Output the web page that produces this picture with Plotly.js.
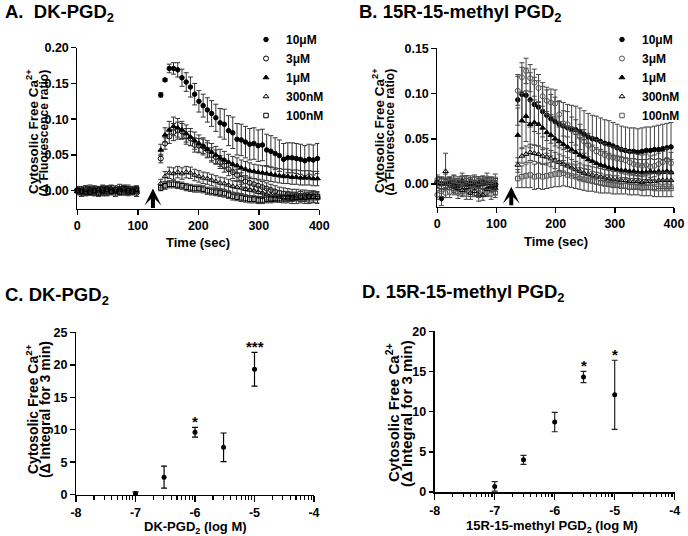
<!DOCTYPE html>
<html>
<head>
<meta charset="utf-8">
<script src="https://cdn.plot.ly/plotly-3.0.1.min.js"></script>
<style>html,body{margin:0;padding:0;background:#fff;}#chart{width:688px;height:536px;}</style>
</head>
<body>
<div id="chart"></div>
<script>
// ---------- DATA ----------
const seriesNames = ['10\u03bcM', '3\u03bcM', '1\u03bcM', '300nM', '100nM'];

const timeA = [0,7,14,21,28,35,42,49,56,63,70,77,84,91,98,
  138,145,152,159,166,173,180,187,194,201,208,215,222,229,236,243,250,257,264,271,278,285,292,299,306,313,320,327,334,341,348,355,362,369,376,383,390,397];
const timeB = [0,7,14,21,28,35,42,49,56,63,70,77,84,91,98,
  136,143,150,157,164,171,178,185,192,199,206,213,220,227,234,241,248,255,262,269,276,283,290,297,304,311,318,325,332,339,346,353,360,367,374,381,388,395];

// Panel A: DK-PGD2
const a10 = [0.000,-0.002,0.001,-0.001,0.002,0.000,-0.002,0.003,0.001,-0.001,0.002,0.000,0.003,-0.002,0.001,
  0.134,0.155,0.171,0.171,0.169,0.158,0.152,0.145,0.135,0.125,0.119,0.113,0.108,0.102,0.095,0.093,0.084,0.081,0.072,0.071,0.068,0.065,0.066,0.063,0.064,0.057,0.055,0.052,0.049,0.044,0.046,0.046,0.045,0.044,0.042,0.044,0.043,0.045];
const a3 = [0.001,-0.003,-0.001,0.002,-0.002,0.001,0.003,-0.001,0.000,0.002,-0.002,0.001,-0.001,0.002,-0.003,
  0.045,0.066,0.076,0.082,0.084,0.083,0.076,0.073,0.064,0.063,0.062,0.057,0.050,0.047,0.040,0.035,0.030,0.026,0.022,0.017,0.013,0.011,0.009,0.007,0.005,0.003,0.001,-0.001,-0.003,-0.004,-0.005,-0.006,-0.006,-0.007,-0.007,-0.008,-0.008,-0.009];
const a1 = [-0.001,0.002,-0.002,0.000,0.003,-0.001,0.001,-0.003,0.002,0.000,0.003,-0.001,0.002,0.000,-0.002,
  0.057,0.078,0.085,0.090,0.088,0.085,0.080,0.075,0.070,0.066,0.062,0.058,0.054,0.050,0.046,0.043,0.040,0.037,0.035,0.032,0.030,0.028,0.027,0.026,0.025,0.024,0.023,0.022,0.021,0.020,0.020,0.019,0.019,0.018,0.018,0.018,0.017,0.017];
const a300 = [0.002,0.000,-0.003,0.001,-0.001,0.002,-0.002,0.000,0.003,-0.002,0.001,0.002,-0.003,0.001,0.000,
  0.010,0.020,0.025,0.024,0.026,0.024,0.026,0.025,0.022,0.020,0.018,0.017,0.015,0.013,0.011,0.010,0.008,0.006,0.005,0.004,0.002,0.001,0.000,-0.002,-0.003,-0.005,-0.006,-0.007,-0.008,-0.009,-0.009,-0.010,-0.010,-0.009,-0.010,-0.010,-0.009,-0.010];
const a100 = [0.000,-0.001,0.002,-0.002,0.000,-0.003,0.001,0.002,-0.001,0.001,-0.002,0.003,0.000,-0.001,0.002,
  0.004,0.007,0.009,0.009,0.008,0.007,0.005,0.004,0.003,0.003,0.002,0.000,-0.001,-0.002,-0.003,-0.004,-0.006,-0.008,-0.009,-0.010,-0.011,-0.012,-0.012,-0.013,-0.013,-0.012,-0.012,-0.011,-0.011,-0.010,-0.010,-0.010,-0.009,-0.009,-0.009,-0.008,-0.008,-0.008];

const a10Err = [0.005,0.004,0.006,0.005,0.004,0.006,0.005,0.004,0.006,0.005,0.004,0.006,0.005,0.004,0.005,
  0.003,0.002,0.006,0.008,0.010,0.012,0.013,0.014,0.015,0.015,0.016,0.017,0.018,0.019,0.020,0.021,0.021,0.022,0.022,0.022,0.022,0.022,0.022,0.022,0.022,0.022,0.022,0.022,0.022,0.022,0.021,0.021,0.021,0.021,0.021,0.021,0.021,0.021];
const a3Err = [0.004,0.005,0.004,0.006,0.005,0.004,0.005,0.006,0.004,0.005,0.004,0.006,0.005,0.004,0.005,
  0.006,0.008,0.010,0.012,0.012,0.011,0.011,0.010,0.010,0.010,0.010,0.010,0.010,0.010,0.009,0.009,0.009,0.009,0.008,0.008,0.008,0.008,0.008,0.008,0.008,0.008,0.008,0.008,0.008,0.008,0.008,0.008,0.008,0.008,0.008,0.008,0.008,0.008];
const a1Err = [0.005,0.004,0.005,0.006,0.004,0.005,0.006,0.004,0.005,0.004,0.006,0.005,0.004,0.005,0.006,
  0.008,0.010,0.012,0.013,0.013,0.012,0.012,0.012,0.012,0.012,0.012,0.012,0.012,0.012,0.012,0.012,0.011,0.011,0.011,0.011,0.011,0.011,0.010,0.010,0.010,0.010,0.010,0.010,0.010,0.010,0.010,0.010,0.010,0.010,0.010,0.010,0.010,0.010];
const a300Err = [0.004,0.005,0.004,0.005,0.006,0.004,0.005,0.004,0.005,0.006,0.004,0.005,0.004,0.005,0.004,
  0.006,0.007,0.008,0.008,0.008,0.008,0.008,0.008,0.008,0.008,0.008,0.008,0.008,0.008,0.008,0.008,0.008,0.008,0.008,0.008,0.008,0.008,0.008,0.008,0.008,0.008,0.008,0.008,0.008,0.008,0.008,0.008,0.008,0.008,0.008,0.008,0.008,0.008];
const a100Err = [0.004,0.004,0.005,0.004,0.004,0.005,0.004,0.004,0.005,0.004,0.004,0.005,0.004,0.004,0.005,
  0.004,0.005,0.005,0.005,0.005,0.005,0.005,0.005,0.005,0.005,0.005,0.005,0.005,0.005,0.005,0.005,0.005,0.005,0.005,0.005,0.005,0.005,0.005,0.005,0.005,0.005,0.005,0.005,0.005,0.005,0.005,0.005,0.005,0.005,0.005,0.005,0.005,0.005];

// Panel B: 15R-15-methyl PGD2
const b10 = [0.002,-0.016,0.001,0.000,0.002,-0.001,0.003,0.001,0.000,0.002,-0.001,0.003,0.001,0.000,-0.002,
  0.093,0.099,0.098,0.093,0.088,0.085,0.080,0.076,0.072,0.069,0.066,0.064,0.062,0.061,0.060,0.058,0.055,0.052,0.050,0.049,0.047,0.045,0.044,0.042,0.040,0.038,0.037,0.036,0.036,0.035,0.036,0.037,0.037,0.038,0.038,0.039,0.040,0.041];
const b3 = [-0.012,-0.008,-0.010,-0.009,-0.007,-0.010,-0.008,-0.011,-0.009,-0.007,-0.010,-0.008,-0.009,-0.011,-0.010,
  0.103,0.118,0.125,0.117,0.112,0.106,0.097,0.092,0.090,0.089,0.077,0.067,0.066,0.060,0.057,0.052,0.047,0.043,0.039,0.036,0.034,0.032,0.030,0.029,0.028,0.027,0.026,0.024,0.022,0.021,0.020,0.021,0.019,0.020,0.022,0.024,0.027,0.023];
const b1 = [0.003,0.001,0.000,0.002,-0.001,0.001,0.003,0.000,0.002,-0.001,0.002,0.000,0.001,-0.002,0.001,
  0.054,0.070,0.075,0.066,0.068,0.066,0.062,0.057,0.054,0.050,0.047,0.044,0.041,0.038,0.035,0.032,0.030,0.027,0.025,0.023,0.021,0.020,0.018,0.017,0.016,0.015,0.015,0.014,0.014,0.013,0.013,0.013,0.014,0.013,0.014,0.013,0.014,0.013];
const b300 = [0.001,0.000,0.014,0.002,-0.003,-0.005,-0.007,-0.004,-0.010,-0.008,-0.012,-0.012,-0.006,-0.003,-0.005,
  0.021,0.031,0.033,0.035,0.034,0.033,0.031,0.030,0.028,0.026,0.024,0.022,0.020,0.018,0.016,0.014,0.012,0.011,0.010,0.009,0.008,0.007,0.006,0.005,0.005,0.004,0.004,0.003,0.003,0.003,0.002,0.003,0.003,0.003,0.004,0.004,0.004,0.004];
const b100 = [0.004,0.003,0.005,0.002,0.004,0.003,0.006,0.004,0.003,0.005,0.002,0.004,0.006,0.003,0.005,
  0.006,0.008,0.009,0.010,0.008,0.009,0.008,0.009,0.010,0.011,0.011,0.012,0.010,0.009,0.008,0.006,0.005,0.004,0.003,0.002,0.001,0.000,0.000,-0.001,-0.001,-0.002,-0.002,-0.003,-0.003,-0.003,-0.004,-0.004,-0.004,-0.005,-0.005,-0.005,-0.005,-0.005];

const b10Err = [0.006,0.008,0.005,0.006,0.007,0.005,0.006,0.008,0.005,0.006,0.007,0.005,0.006,0.007,0.006,
  0.028,0.030,0.030,0.030,0.030,0.029,0.028,0.028,0.027,0.027,0.026,0.026,0.026,0.026,0.026,0.026,0.026,0.026,0.026,0.026,0.026,0.026,0.026,0.026,0.026,0.026,0.026,0.026,0.026,0.026,0.026,0.026,0.026,0.026,0.027,0.027,0.027,0.027];
const b3Err = [0.005,0.006,0.005,0.006,0.005,0.006,0.005,0.006,0.005,0.006,0.005,0.006,0.005,0.006,0.005,
  0.016,0.016,0.014,0.015,0.015,0.015,0.015,0.015,0.015,0.015,0.014,0.014,0.014,0.014,0.014,0.014,0.013,0.013,0.013,0.013,0.013,0.013,0.012,0.012,0.012,0.012,0.012,0.012,0.012,0.012,0.012,0.012,0.012,0.012,0.012,0.012,0.012,0.012];
const b1Err = [0.005,0.006,0.005,0.005,0.006,0.005,0.005,0.006,0.005,0.005,0.006,0.005,0.005,0.006,0.005,
  0.030,0.030,0.028,0.026,0.025,0.024,0.024,0.023,0.023,0.022,0.022,0.021,0.021,0.020,0.020,0.019,0.019,0.018,0.018,0.017,0.017,0.016,0.016,0.015,0.015,0.015,0.014,0.014,0.014,0.014,0.014,0.014,0.014,0.014,0.014,0.014,0.014,0.014];
const b300Err = [0.006,0.006,0.020,0.006,0.007,0.006,0.007,0.006,0.007,0.006,0.007,0.006,0.007,0.006,0.007,
  0.008,0.008,0.009,0.009,0.009,0.009,0.009,0.009,0.009,0.009,0.009,0.009,0.009,0.009,0.009,0.009,0.009,0.009,0.009,0.009,0.009,0.009,0.009,0.009,0.009,0.009,0.009,0.009,0.009,0.009,0.009,0.009,0.009,0.009,0.009,0.009,0.009,0.009];
const b100Err = [0.006,0.005,0.006,0.005,0.006,0.005,0.006,0.005,0.006,0.005,0.006,0.005,0.006,0.005,0.006,
  0.010,0.012,0.013,0.014,0.014,0.014,0.014,0.014,0.014,0.014,0.014,0.014,0.013,0.013,0.013,0.012,0.012,0.012,0.011,0.011,0.011,0.010,0.010,0.010,0.010,0.009,0.009,0.009,0.009,0.009,0.009,0.009,0.009,0.009,0.009,0.009,0.009,0.009];

// Panels C & D: concentration–response (log M)
const logConc = [-7, -6.52, -6, -5.52, -5];
const cVals = [0.15, 2.7, 9.6, 7.3, 19.3];
const cErr  = [0.3, 1.7, 0.75, 2.2, 2.6];
const cSig  = ['', '', '*', '', '***'];
const dVals = [0.7, 4.0, 8.7, 14.3, 12.1];
const dErr  = [0.6, 0.55, 1.2, 0.7, 4.3];
const dSig  = ['', '', '', '*', '*'];

const stimTime = 125;
const timeTicks = [0, 100, 200, 300, 400];
const timeTickText = ['0', '100', '200', '300', '400'];
const yTicksA = [0, 0.05, 0.1, 0.15, 0.2];
const yTickTextA = ['0.00', '0.05', '0.10', '0.15', '0.20'];
const yTicksB = [0, 0.05, 0.1, 0.15];
const yTickTextB = ['0.00', '0.05', '0.10', '0.15'];
const yTicksC = [0, 5, 10, 15, 20, 25];
const yTicksD = [0, 5, 10, 15, 20];
const logTickVals = [-8, -7, -6, -5, -4];
const logTickText = ['-8', '-7', '-6', '-5', '-4'];

// ---------- CHART ----------
const FONT = 'Liberation Sans, Arial, Helvetica, sans-serif';
const W = 688, H = 536;
const px = v => v / W;
const py = v => 1 - v / H;
const bold = arr => arr.map(t => '<b>' + t + '</b>');

const symA = ['circle', 'circle-open', 'triangle-up', 'triangle-up-open', 'square-open'];
const symB = ['circle', 'circle-open', 'triangle-up', 'triangle-up-open', 'square-open'];
const colA = ['#000', '#000', '#000', '#000', '#000'];
const colB = ['#000', '#555', '#000', '#000', '#555'];
const sizes = [4.5, 5, 5, 5, 4.5];

const seriesA = [a10, a3, a1, a300, a100];
const errA = [a10Err, a3Err, a1Err, a300Err, a100Err];
const seriesB = [b10, b3, b1, b300, b100];
const errB = [b10Err, b3Err, b1Err, b300Err, b100Err];

const traces = [];
seriesA.forEach((ys, i) => {
  traces.push({
    type: 'scatter', mode: 'markers', x: timeA, y: ys, name: '<b>' + seriesNames[i] + '</b>',
    xaxis: 'x', yaxis: 'y', legend: 'legend', cliponaxis: false,
    marker: {symbol: symA[i], size: sizes[i], color: colA[i], line: {color: colA[i], width: 1}},
    error_y: {type: 'data', array: errA[i], visible: true, thickness: 1, width: 2.5, color: '#333'}
  });
});
seriesB.forEach((ys, i) => {
  traces.push({
    type: 'scatter', mode: 'markers', x: timeB, y: ys, name: '<b>' + seriesNames[i] + '</b>',
    xaxis: 'x2', yaxis: 'y2', legend: 'legend2', cliponaxis: false,
    marker: {symbol: symB[i], size: sizes[i], color: colB[i], line: {color: colB[i], width: 1}},
    error_y: {type: 'data', array: errB[i], visible: true, thickness: 1, width: 2.5, color: '#444'}
  });
});
traces.push({
  type: 'scatter', mode: 'markers', x: logConc, y: cVals, xaxis: 'x3', yaxis: 'y3',
  showlegend: false, cliponaxis: false,
  marker: {symbol: 'circle', size: 5, color: '#000'},
  error_y: {type: 'data', array: cErr, visible: true, thickness: 1.2, width: 3, color: '#000'}
});
traces.push({
  type: 'scatter', mode: 'markers', x: logConc, y: dVals, xaxis: 'x4', yaxis: 'y4',
  showlegend: false, cliponaxis: false,
  marker: {symbol: 'circle', size: 5, color: '#000'},
  error_y: {type: 'data', array: dErr, visible: true, thickness: 1.2, width: 3, color: '#222'}
});

// minor log ticks (axis decoration)
const minorLog = [];
[-8, -7, -6, -5].forEach(d => { for (let k = 2; k <= 9; k++) minorLog.push(d + Math.log10(k)); });

const tickFont = {family: FONT, size: 12.5, color: '#000', weight: 'bold'};
function axisBase(extra) {
  return Object.assign({
    showline: true, linecolor: '#000', linewidth: 1.5, showgrid: false, zeroline: false,
    ticks: 'outside', ticklen: 4.5, tickwidth: 1.5, tickcolor: '#000', tickfont: tickFont,
    fixedrange: true, tickmode: 'array'
  }, extra);
}
const minorDef = {tickmode: 'array', tickvals: minorLog, ticks: 'outside', ticklen: 3.5, tickwidth: 1.2, tickcolor: '#000'};

const layout = {
  width: W, height: H, margin: {l: 0, r: 0, t: 0, b: 0},
  paper_bgcolor: '#fff', plot_bgcolor: '#fff',
  font: {family: FONT, color: '#000'},
  showlegend: true,
  xaxis: axisBase({domain: [px(77.3), px(319.3)], range: [0, 400], anchor: 'y',
    tickvals: timeTicks, ticktext: bold(timeTickText)}),
  yaxis: axisBase({domain: [py(208.6), py(47.7)], range: [-0.025, 0.2], anchor: 'x',
    tickvals: yTicksA, ticktext: bold(yTickTextA)}),
  xaxis2: axisBase({domain: [px(437.3), px(674)], range: [0, 400], anchor: 'y2',
    tickvals: timeTicks, ticktext: bold(timeTickText)}),
  yaxis2: axisBase({domain: [py(206.6), py(48.3)], range: [-0.025, 0.15], anchor: 'x2',
    tickvals: yTicksB, ticktext: bold(yTickTextB)}),
  xaxis3: axisBase({domain: [px(76), px(314)], range: [-8, -4], anchor: 'y3',
    tickvals: logTickVals, ticktext: bold(logTickText), ticklen: 6, minor: minorDef}),
  yaxis3: axisBase({domain: [py(494.7), py(332.3)], range: [0, 25], anchor: 'x3',
    tickvals: yTicksC, ticktext: bold(yTicksC.map(String))}),
  xaxis4: axisBase({domain: [px(434.7), px(674.7)], range: [-8, -4], anchor: 'y4',
    tickvals: logTickVals, ticktext: bold(logTickText), ticklen: 6, minor: minorDef}),
  yaxis4: axisBase({domain: [py(492), py(331.3)], range: [0, 20], anchor: 'x4',
    tickvals: yTicksD, ticktext: bold(yTicksD.map(String))}),
  legend: {x: px(246), y: py(25), xanchor: 'left', yanchor: 'top', bgcolor: 'rgba(0,0,0,0)',
    font: {family: FONT, size: 12, color: '#000'}, tracegroupgap: 0, itemwidth: 30},
  legend2: {x: px(602), y: py(25), xanchor: 'left', yanchor: 'top', bgcolor: 'rgba(0,0,0,0)',
    font: {family: FONT, size: 12, color: '#000'}, tracegroupgap: 0, itemwidth: 30},
  annotations: []
};

const ann = layout.annotations;
function textAt(x, y, text, size, opts) {
  ann.push(Object.assign({xref: 'paper', yref: 'paper', x: px(x), y: py(y), text: '<b>' + text + '</b>',
    showarrow: false, xanchor: 'center', yanchor: 'middle',
    font: {family: FONT, size: size, color: '#000'}}, opts || {}));
}
// panel titles
textAt(3, 13, 'A.  DK-PGD<sub>2</sub>', 18.5, {xanchor: 'left'});
textAt(357, 13, 'B. 15R-15-methyl PGD<sub>2</sub>', 18.5, {xanchor: 'left'});
textAt(3, 296, 'C. DK-PGD<sub>2</sub>', 18.5, {xanchor: 'left'});
textAt(360, 293, 'D. 15R-15-methyl PGD<sub>2</sub>', 18.5, {xanchor: 'left'});
// x titles
textAt(198, 242, 'Time (sec)', 13);
textAt(556, 241, 'Time (sec)', 13);
textAt(195, 527, 'DK-PGD<sub>2</sub> (log M)', 13);
textAt(552, 526, '15R-15-methyl PGD<sub>2</sub> (log M)', 13);
// y titles (two lines each)
const yt1 = 'Cytosolic Free Ca<sup>2+</sup>';
textAt(32, 132, yt1, 13.5, {textangle: -90});
textAt(43.5, 133, '(\u0394 Fluorescence ratio)', 12, {textangle: -90});
textAt(378, 131, yt1, 13.5, {textangle: -90});
textAt(389.5, 132, '(\u0394 Fluorescence ratio)', 12, {textangle: -90});
textAt(32, 409, yt1, 14, {textangle: -90});
textAt(45, 410, '(\u0394 Integral for 3 min)', 14, {textangle: -90});
textAt(392, 413, yt1, 15, {textangle: -90});
textAt(406, 414, '(\u0394 Integral for 3 min)', 15, {textangle: -90});

// stimulus arrows
ann.push({xref: 'x', yref: 'y', x: stimTime, y: 0.003, ax: 0, ay: 21, text: '', showarrow: true,
  arrowhead: 3, arrowsize: 0.7, arrowwidth: 4, arrowcolor: '#000', standoff: 0});
ann.push({xref: 'x2', yref: 'y2', x: stimTime, y: -0.003, ax: 0, ay: 20, text: '', showarrow: true,
  arrowhead: 3, arrowsize: 0.7, arrowwidth: 4, arrowcolor: '#000', standoff: 0});

// significance stars
logConc.forEach((x, i) => {
  if (cSig[i]) ann.push({xref: 'x3', yref: 'y3', x: x, y: cVals[i] + cErr[i], text: '<b>' + cSig[i] + '</b>', showarrow: false,
    yanchor: 'middle', yshift: 6, font: {family: FONT, size: 15, color: '#000'}});
  if (dSig[i]) ann.push({xref: 'x4', yref: 'y4', x: x, y: dVals[i] + dErr[i], text: '<b>' + dSig[i] + '</b>', showarrow: false,
    yanchor: 'middle', yshift: 6, font: {family: FONT, size: 15, color: '#000'}});
});

Plotly.newPlot('chart', traces, layout, {staticPlot: true, displayModeBar: false});
</script>
</body>
</html>
